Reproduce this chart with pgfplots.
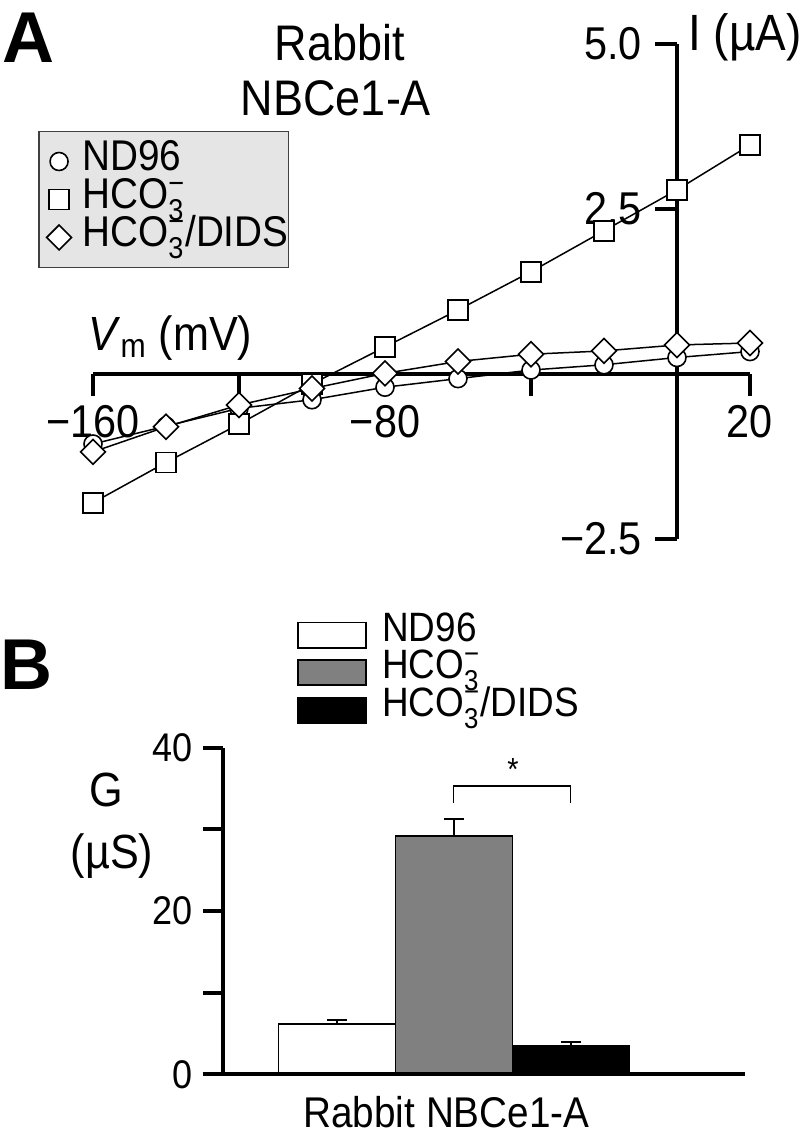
\documentclass[border=0pt]{standalone}
\usepackage{fontspec}
\setmainfont{Liberation Sans}[FakeStretch=0.9]
\newfontfamily\plainsans{Liberation Sans}
\usepackage{pgfplots}
\pgfplotsset{compat=1.18}

\newcommand\hco{HCO\rlap{\raisebox{-0.25ex}{\textsubscript{3}}}\textsuperscript{−}}
\newcommand\fs[1]{\fontsize{#1}{#1}\selectfont}

\begin{document}
\begin{tikzpicture}
\fill[white] (0,0) rectangle (402pt,-573pt);
\path[use as bounding box] (0,0) rectangle (402pt,-573pt);

% panel A: I-V curves
\node[font=\plainsans\bfseries\fs{36}] at (14pt,-19pt) {A};
\node[font=\fs{25}, anchor=base, inner sep=0pt] at (170pt,-30pt) {Rabbit};
\node[font=\fs{25}, anchor=base, inner sep=0pt] at (168pt,-57.5pt) {NBCe1-A};

\begin{axis}[
  at={(46.5pt,-269.5pt)}, anchor=south west,
  scale only axis, width=328.5pt, height=247.5pt,
  xmin=-160, xmax=20, ymin=-2.5, ymax=5,
  enlargelimits=false, clip=false,
  axis lines=middle, axis line style={line width=2pt,-},
  xtick={-160,-120,-80,-40,20}, xticklabels={−160,,−80,,20},
  ytick={-2.5,2.5,5}, yticklabels={−2.5,2.5,5.0},
  tick align=outside, major tick length=11pt,
  tick style={line width=2pt,black},
  tick label style={font=\fs{23}},
  xticklabel style={anchor=north, yshift=-1pt},
  yticklabel style={anchor=east, xshift=-3pt},
  legend style={at={(-0.0833,0.8249)}, anchor=north west,
    fill=black!10, draw=black!75, line width=0.8pt, font=\fs{21.5},
    inner xsep=0pt, inner ysep=5.5pt, column sep=0pt,
    nodes={inner sep=0pt, text height=14pt, text depth=5pt}},
  legend cell align=left,
  legend image code/.code={\path[draw=none,fill=none] (-10pt,0pt) -- (11.7pt,0pt);
    \path[#1] plot coordinates {(0pt,0pt)};},
]
\addplot[black, line width=0.75pt, mark=*, mark size=4.5pt,
  mark options={fill=white, line width=0.8pt}]
  coordinates {(-160,-1.06) (-140,-0.79) (-120,-0.52) (-100,-0.39) (-80,-0.20)
               (-60,-0.07) (-40,0.06) (-20,0.14) (0,0.25) (20,0.34)};
\addlegendentry{ND96}
\addplot[black, line width=0.75pt, mark=square*, mark size=5pt,
  mark options={fill=white, line width=0.8pt}]
  coordinates {(-160,-1.95) (-140,-1.34) (-120,-0.76) (-100,-0.15) (-80,0.41)
               (-60,0.97) (-40,1.55) (-20,2.17) (0,2.79) (20,3.47)};
\addlegendentry{\hco}
\addplot[black, line width=0.75pt, mark=square*, mark size=4.4pt,
  mark options={fill=white, line width=0.8pt, rotate=45}]
  coordinates {(-160,-1.18) (-140,-0.80) (-120,-0.47) (-100,-0.22) (-80,0.01)
               (-60,0.19) (-40,0.30) (-20,0.35) (0,0.44) (20,0.47)};
\addlegendentry{\hco/DIDS\hspace{5pt}}
\end{axis}
\node[anchor=base west, font=\fs{24}, inner sep=0pt] at (44pt,-175pt) {\textit{V}\textsubscript{m} (mV)};
\node[anchor=base west, font=\fs{25.5}, inner sep=0pt] at (344pt,-25pt) {I (µA)};

% panel B: conductance bars
\node[font=\plainsans\bfseries\fs{36}] at (13pt,-332.5pt) {B};
\node[font=\fs{24}] at (53pt,-395pt) {G};
\node[font=\fs{24}] at (56pt,-428pt) {(µS)};

\begin{axis}[
  at={(111.65pt,-537.15pt)}, anchor=south west,
  scale only axis, width=260.85pt, height=163.4pt,
  xmin=-230.7, xmax=291, ymin=0, ymax=40,
  clip=false,
  axis x line=none, axis y line=left, axis line style={line width=2pt,-},
  ytick={0,10,20,30,40}, yticklabels={0,,20,,40},
  tick align=outside, major tick length=10pt,
  tick style={line width=2pt,black},
  tick label style={font=\fs{20}},
  yticklabel style={xshift=-2pt},
  ybar=0pt, bar width=58.5pt,
  legend style={at={(0.1413,1.4024)}, anchor=north west,
    draw=none, fill=none, font=\fs{20.5},
    inner sep=0pt, column sep=0pt,
    nodes={inner sep=0pt, text height=12.5pt, text depth=6.25pt}},
  legend cell align=left,
  legend image code/.code={\draw[#1] (0pt,-6.3pt) rectangle (34pt,6.3pt);
    \path[draw=none,fill=none] (34pt,0pt) -- (42pt,0pt);},
  error bars/y dir=plus, error bars/y explicit,
  error bars/error bar style={line width=0.8pt, black},
  error bars/error mark options={line width=0.8pt, black, mark size=5pt, rotate=90},
]
\addplot[fill=white, draw=black, line width=0.8pt] coordinates {(0,6.16) +- (0,0.49)};
\addlegendentry{ND96}
\addplot[fill=black!50, draw=black, line width=0.8pt] coordinates {(0,29.17) +- (0,2.1)};
\addlegendentry{\hco}
\addplot[fill=black, draw=black, line width=0.8pt] coordinates {(0,3.5) +- (0,0.42)};
\addlegendentry{\hco/DIDS}
\draw[line width=2pt] (axis cs:-251.4,0) -- (axis cs:291,0);
\draw[line width=0.6pt] (axis cs:-0.7,33.24) -- (axis cs:-0.7,35.29)
  -- (axis cs:116.7,35.29) -- (axis cs:116.7,33.24);
\node[font=\fs{16}] at (axis cs:59,37.3) {*};
\node[font=\fs{21.5}, anchor=base, inner sep=0pt] at (axis cs:-7.5,-6.57) {Rabbit NBCe1-A};
\end{axis}
\end{tikzpicture}
\end{document}
